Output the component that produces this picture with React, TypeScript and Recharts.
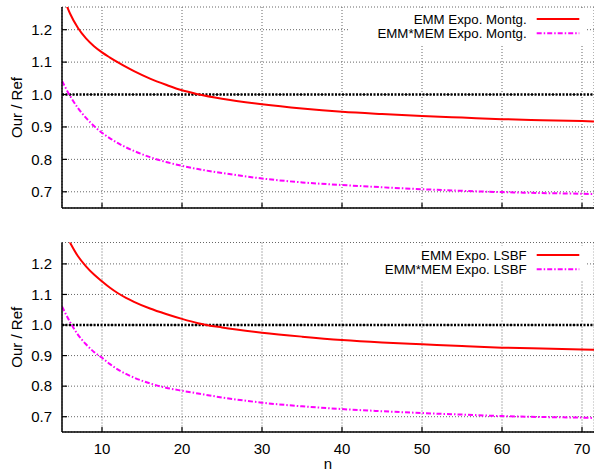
import React from 'react';
import { LineChart, Line, XAxis, YAxis, CartesianGrid, ReferenceLine, Legend } from 'recharts';

const nValues = [5, 6, 7, 8, 9, 10, 11, 12, 13, 14, 16, 18, 20, 22, 25, 30, 35, 40, 45, 50, 55, 60, 65, 70, 71.5];
const montgEmm = [1.312, 1.25, 1.205, 1.173, 1.149, 1.13, 1.114, 1.099, 1.085, 1.072, 1.049, 1.03, 1.013, 1.001, 0.987, 0.97, 0.957, 0.947, 0.94, 0.934, 0.929, 0.924, 0.921, 0.918, 0.917];
const montgEmmMem = [1.042, 0.996, 0.958, 0.928, 0.903, 0.882, 0.865, 0.85, 0.837, 0.826, 0.807, 0.792, 0.78, 0.77, 0.758, 0.741, 0.729, 0.721, 0.714, 0.708, 0.703, 0.699, 0.696, 0.694, 0.693];
const lsbfEmm = [1.32, 1.27, 1.225, 1.192, 1.165, 1.143, 1.122, 1.104, 1.089, 1.076, 1.054, 1.036, 1.02, 1.006, 0.992, 0.975, 0.962, 0.951, 0.943, 0.937, 0.931, 0.926, 0.923, 0.92, 0.919];
const lsbfEmmMem = [1.061, 1.01, 0.968, 0.937, 0.912, 0.893, 0.872, 0.854, 0.84, 0.828, 0.809, 0.795, 0.785, 0.776, 0.763, 0.746, 0.734, 0.725, 0.718, 0.712, 0.707, 0.702, 0.699, 0.697, 0.696];

const xTicks = [10, 20, 30, 40, 50, 60, 70];
const yTicks = [0.7, 0.8, 0.9, 1.0, 1.1, 1.2];
const xDomain = [5, 71.5];
const yDomain = [0.65, 1.27];

const topNames = ['EMM Expo. Montg.', 'EMM*MEM Expo. Montg.'];
const bottomNames = ['EMM Expo. LSBF', 'EMM*MEM Expo. LSBF'];
const yLabel = 'Our / Ref';
const xLabel = 'n';

const FONT = '"Liberation Sans", Arial, Helvetica, sans-serif';
const RED = '#ff0000';
const MAGENTA = '#ff00ff';
const MAG_DASH = '5 2 1.5 2';

const buildRows = (a: number[], b: number[]) =>
  nValues.map((n, i) => ({ n, emm: a[i], emmMem: b[i] }));

const topData = buildRows(montgEmm, montgEmmMem);
const bottomData = buildRows(lsbfEmm, lsbfEmmMem);

const LegendBox = (props: any) => {
  const payload = (props.payload || []) as any[];
  return (
    <svg width={236} height={34} style={{ display: 'block', background: '#fff' }}>
      <rect x={0} y={0} width={236} height={34} fill="#fff" />
      {payload.map((p, i) => {
        const cy = 9 + i * 14.3;
        return (
          <g key={i}>
            <text
              x={176.7}
              y={cy}
              textAnchor="end"
              dominantBaseline="central"
              fontFamily={FONT}
              fontSize={13.3}
              fill="#000"
            >
              {p.value}
            </text>
            <line
              x1={186.7}
              x2={229.3}
              y1={cy}
              y2={cy}
              stroke={p.color}
              strokeWidth={2}
              strokeDasharray={i === 1 ? MAG_DASH : undefined}
            />
          </g>
        );
      })}
    </svg>
  );
};

const YLabel = (props: any) => {
  const vb = props.viewBox || {};
  const cx = (vb.x || 0) + 16;
  const cy = (vb.y || 0) + (vb.height || 0) / 2;
  return (
    <text
      x={cx}
      y={cy}
      transform={`rotate(-90, ${cx}, ${cy})`}
      textAnchor="middle"
      dominantBaseline="central"
      fontFamily={FONT}
      fontSize={15}
      fill="#000"
    >
      {yLabel}
    </text>
  );
};

const XLabel = (props: any) => {
  const vb = props.viewBox || {};
  const cx = (vb.x || 0) + (vb.width || 0) / 2;
  const y = (vb.y || 0) + (vb.height || 0) - 1.5;
  return (
    <text x={cx} y={y} textAnchor="middle" fontFamily={FONT} fontSize={15} fill="#000">
      {xLabel}
    </text>
  );
};

const NoTick = () => <g />;

type PanelProps = {
  data: any[];
  names: string[];
  height: number;
  marginTop: number;
  xAxisHeight: number;
  showXLabels: boolean;
  legendTop: number;
};

const Panel = ({ data, names, height, marginTop, xAxisHeight, showXLabels, legendTop }: PanelProps) => (
  <LineChart
    width={594}
    height={height}
    data={data}
    margin={{ top: marginTop, right: 0, bottom: 0, left: 0 }}
  >
    <CartesianGrid xAxisId="b" stroke="#666" strokeDasharray="1 2" strokeWidth={1} />
    <XAxis
      xAxisId="b"
      dataKey="n"
      type="number"
      domain={xDomain}
      allowDataOverflow
      ticks={xTicks}
      height={xAxisHeight}
      tickSize={-5}
      tickMargin={16}
      tick={showXLabels ? { fontFamily: FONT, fontSize: 15, fill: '#000' } : NoTick}
      axisLine={{ stroke: '#000', strokeWidth: 1.5 }}
      tickLine={{ stroke: '#000', strokeWidth: 1.2 }}
      label={showXLabels ? { content: XLabel } : undefined}
    />
    <XAxis
      xAxisId="t"
      orientation="top"
      dataKey="n"
      type="number"
      domain={xDomain}
      allowDataOverflow
      ticks={xTicks}
      height={0}
      tickSize={-5}
      tick={NoTick}
      axisLine={{ stroke: '#000', strokeWidth: 1.5 }}
      tickLine={{ stroke: '#000', strokeWidth: 1.2 }}
    />
    <YAxis
      type="number"
      domain={yDomain}
      allowDataOverflow
      ticks={yTicks}
      width={62}
      tickSize={-5}
      tickMargin={15}
      tickFormatter={(v: number) => v.toFixed(1)}
      tick={{ fontFamily: FONT, fontSize: 15, fill: '#000' }}
      axisLine={{ stroke: '#000', strokeWidth: 1.5 }}
      tickLine={{ stroke: '#000', strokeWidth: 1.2 }}
      label={{ content: YLabel }}
    />
    <ReferenceLine xAxisId="b" y={1} stroke="#000" strokeWidth={2.5} strokeDasharray="2 1.5" />
    <Line
      xAxisId="b"
      type="monotone"
      dataKey="emm"
      name={names[0]}
      stroke={RED}
      strokeWidth={2}
      dot={false}
      isAnimationActive={false}
    />
    <Line
      xAxisId="b"
      type="monotone"
      dataKey="emmMem"
      name={names[1]}
      stroke={MAGENTA}
      strokeWidth={2}
      strokeDasharray={MAG_DASH}
      dot={false}
      isAnimationActive={false}
    />
    <Legend
      layout="horizontal"
      verticalAlign="middle"
      align="center"
      content={LegendBox}
      wrapperStyle={{ top: legendTop, left: 350, width: 236, height: 34, margin: 0, padding: 0 }}
    />
  </LineChart>
);

export default function App() {
  return (
    <div
      style={{
        position: 'absolute',
        left: 0,
        top: 0,
        width: 594,
        height: 470,
        background: '#fff',
        overflow: 'hidden',
      }}
    >
      <div style={{ position: 'absolute', left: 0, top: 0 }}>
        <Panel
          data={topData}
          names={topNames}
          height={230}
          marginTop={7}
          xAxisHeight={22}
          showXLabels={false}
          legendTop={10}
        />
      </div>
      <div style={{ position: 'absolute', left: 0, top: 230 }}>
        <Panel
          data={bottomData}
          names={bottomNames}
          height={240}
          marginTop={12.5}
          xAxisHeight={38}
          showXLabels={true}
          legendTop={16}
        />
      </div>
    </div>
  );
}
